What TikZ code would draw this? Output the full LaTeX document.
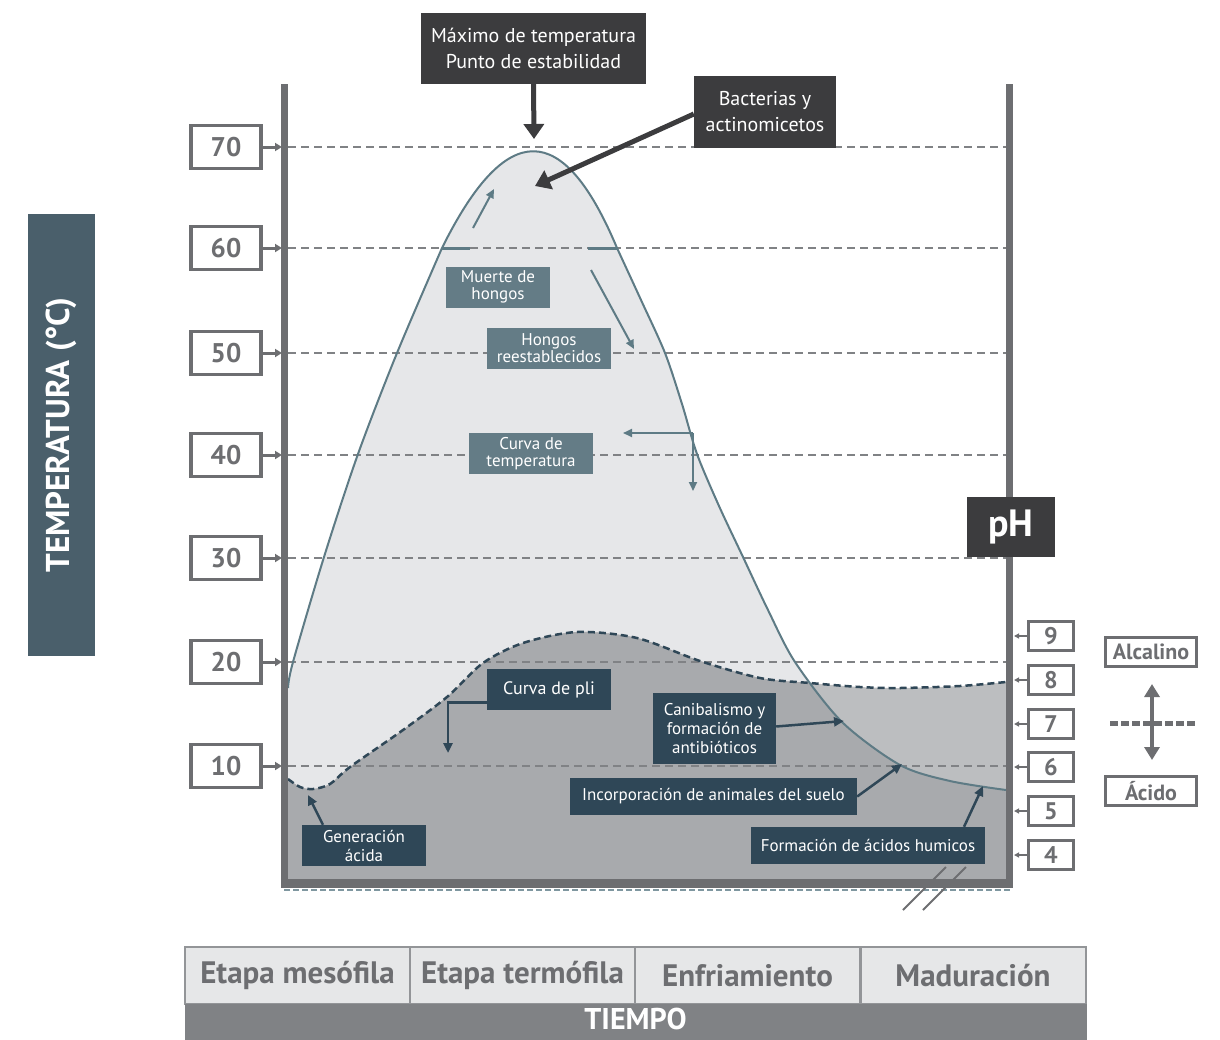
\documentclass[tikz,border=0pt]{standalone}
\usepackage{fontspec}
\setmainfont{PT Sans}
\usetikzlibrary{arrows.meta}
\definecolor{barg}{HTML}{6D6E71}
\definecolor{gridg}{HTML}{808285}
\definecolor{darkbox}{HTML}{3C3C3E}
\definecolor{teallab}{HTML}{647C86}
\definecolor{navy}{HTML}{2F4757}
\definecolor{tline}{HTML}{5E7B85}
\definecolor{tempfill}{HTML}{E6E7E9}
\definecolor{phlight}{HTML}{BCBEC0}
\definecolor{phdark}{HTML}{A8AAAD}
\definecolor{templab}{HTML}{4A5F6B}
\definecolor{bandg}{HTML}{808285}
\definecolor{cellfill}{HTML}{E6E7E8}
\definecolor{cellline}{HTML}{939598}
\definecolor{baseline}{HTML}{7F97A0}
\begin{document}
\begin{tikzpicture}[x=1pt,y=-1pt,
  numbox/.style={draw=barg, line width=3.5pt, fill=white, minimum width=70pt, minimum height=43pt, inner sep=0pt, text=barg, font=\fontsize{27}{27}\selectfont\bfseries},
  phnum/.style={draw=barg, line width=2.5pt, fill=white, minimum width=45pt, minimum height=29pt, inner sep=0pt, text=barg, font=\fontsize{24}{24}\selectfont\bfseries},
  sidebox/.style={draw=barg, line width=2.5pt, fill=white, minimum width=91pt, minimum height=29pt, inner sep=0pt, text=barg, font=\fontsize{22}{22}\selectfont\bfseries},
  darklbl/.style={fill=darkbox, text=white, inner sep=0pt, align=center, font=\fontsize{20}{26}\selectfont},
  teallbl/.style={fill=teallab, text=white, inner sep=0pt, align=center, font=\fontsize{17}{17}\selectfont},
  navylbl/.style={fill=navy, text=white, inner sep=0pt, align=center, font=\fontsize{17}{19}\selectfont},
  cell/.style={draw=cellline, line width=2pt, fill=cellfill, minimum width=225pt, minimum height=57pt, inner sep=0pt, text=barg, font=\fontsize{31}{31}\selectfont\bfseries},
  gridline/.style={draw=gridg, line width=1.3pt, dash pattern=on 8pt off 5pt},
  bigarrow/.style={draw=darkbox, line width=5pt, -{Triangle[length=15pt,width=20pt]}},
  tarrow/.style={draw=tline, line width=2pt, -{Triangle[length=9pt,width=8pt]}},
  narrow/.style={draw=navy, line width=2.5pt, -{Triangle[length=10pt,width=9pt]}},
  garrow/.style={draw=barg, line width=3pt, -{Triangle[length=7pt,width=8pt]}},
  parrow/.style={draw=barg, line width=1.5pt, -{Triangle[length=5pt,width=5pt]}},
  bar/.style={draw=barg, line width=7pt}
]
\useasboundingbox (0,0) rectangle (1220,1039);

% --- regions
\path[save path=\tempP] (288,880) -- plot[smooth, tension=0.5] coordinates {(288,688) (293,662) (324,557) (358,454) (397,353) (442,248)} .. controls (506,119) and (563,119) .. (617,248) -- plot[smooth, tension=0.5] coordinates {(617,248) (641,300) (665,353) (682,404) (697,454) (719,506) (743,557) (768,610) (795,662) (842,722) (900,765) (950,781) (1006,790)} -- (1006,880) -- cycle;
\path[save path=\phP] (288,880) -- plot[smooth] coordinates {(288,779) (300,787) (313,789) (330,784) (350,767) (403,730) (447,697) (483,663) (523,643) (577,632) (637,638) (700,661) (760,678) (810,683) (860,687) (900,688) (960,686) (1006,682)} -- (1006,880) -- cycle;
\fill[tempfill, use path=\tempP];
\fill[phlight, use path=\phP];
\begin{scope}
  \path[clip, use path=\tempP];
  \fill[phdark, use path=\phP];
\end{scope}

% --- grid lines
\foreach \y in {147,248,353,455,558,662,766} \draw[gridline] (288,\y) -- (1006,\y);
\draw[draw=baseline, line width=1.2pt, dash pattern=on 6pt off 3pt] (284,890) -- (1010,890);

% --- curves
\draw[tline, line width=2pt, line join=round] plot[smooth, tension=0.5] coordinates {(288,688) (293,662) (324,557) (358,454) (397,353) (442,248)} .. controls (506,119) and (563,119) .. (617,248) -- plot[smooth, tension=0.5] coordinates {(617,248) (641,300) (665,353) (682,404) (697,454) (719,506) (743,557) (768,610) (795,662) (842,722) (900,765) (950,781) (1006,790)};
\draw[navy, line width=2.5pt, dash pattern=on 7pt off 4pt] plot[smooth] coordinates {(288,779) (300,787) (313,789) (330,784) (350,767) (403,730) (447,697) (483,663) (523,643) (577,632) (637,638) (700,661) (760,678) (810,683) (860,687) (900,688) (960,686) (1006,682)};

% fungi marks at 60
\draw[tline, line width=3pt] (442,248) -- (470,248);
\draw[tline, line width=3pt] (588,248) -- (617,248);

% --- axes bars
\draw[bar] (284.5,84) -- (284.5,884);
\draw[bar] (1009.5,84) -- (1009.5,884);
\draw[draw=barg, line width=9pt] (281,883.5) -- (1013,883.5);
\draw[barg, line width=2pt] (903,910) -- (946,867);
\draw[barg, line width=2pt] (923,910) -- (966,867);

% --- temperature scale
\node[fill=templab, text=white, minimum width=442pt, minimum height=67pt, inner sep=0pt, rotate=90, font=\fontsize{33}{33}\selectfont\bfseries] (templbl) at (61.5,435) {TEMPERATURA (°C)};
\foreach \v/\y in {70/147,60/248,50/353,40/455,30/558,20/662,10/766} {
  \node[numbox] (t\v) at (226,\y) {\v};
  \coordinate (tb\v) at (282,\y);
  \draw[garrow] (t\v) -- (tb\v);
}

% --- pH scale
\node[fill=darkbox, text=white, minimum width=88pt, minimum height=60pt, inner sep=0pt, font=\fontsize{38}{38}\selectfont\bfseries] (ph) at (1011,527) {pH};
\foreach \v/\y in {9/636,8/680,7/724,6/767,5/811,4/855} {
  \node[phnum] (p\v) at (1051,\y) {\v};
  \coordinate (pb\v) at (1014,\y);
  \draw[parrow] (p\v) -- (pb\v);
}
\node[sidebox] (alc) at (1151,652) {Alcalino};
\node[sidebox] (acid) at (1151,791) {Ácido};
\coordinate (dup) at (1152,684);
\coordinate (ddn) at (1152,760);
\draw[draw=barg, line width=4pt, {Triangle[length=13pt,width=15pt]}-{Triangle[length=13pt,width=15pt]}] (dup) -- (ddn);
\coordinate (dl) at (1110,723);
\coordinate (dr) at (1196,723);
\draw[draw=barg, line width=5pt, dash pattern=on 8pt off 3pt] (dl) -- (dr);

% --- top labels
\node[darklbl, minimum width=225pt, minimum height=71pt] (maxb) at (533.5,48.5) {Máximo de temperatura\\Punto de estabilidad};
\coordinate (peak) at (534,139);
\draw[bigarrow] (maxb.south) -- (peak);
\node[darklbl, minimum width=142pt, minimum height=72pt] (bact) at (765,112) {Bacterias y\\actinomicetos};
\coordinate (bactt) at (535,186);
\draw[bigarrow] ([yshift=-2pt]bact.west) -- (bactt);

% --- inner arrows (temperature)
\coordinate (u1) at (473,228); \coordinate (u2) at (494,189);
\draw[tarrow] (u1) -- (u2);
\coordinate (d1) at (591,270); \coordinate (d2) at (634,349);
\draw[tarrow] (d1) -- (d2);
\coordinate (kt) at (693,433); \coordinate (kl) at (623,433); \coordinate (kd) at (693,491);
\draw[tarrow] (kt) -- (kl);
\draw[tarrow] (kt) -- (kd);

\node[teallbl, minimum width=104pt, minimum height=41pt] (muerte) at (498,287) {Muerte de\\hongos};
\node[teallbl, minimum width=124pt, minimum height=41pt] (hongos) at (549,348.5) {Hongos\\reestablecidos};
\node[teallbl, minimum width=124pt, minimum height=41pt] (curvat) at (531,453.5) {Curva de\\temperatura};

% --- navy labels
\node[navylbl, minimum width=124pt, minimum height=41pt, font=\fontsize{18}{18}\selectfont] (pli) at (549,689.5) {Curva de pli};
\coordinate (plid) at (448,753);
\draw[narrow] ([yshift=-13pt]pli.west) -| (plid);
\node[navylbl, minimum width=124pt, minimum height=41pt] (gen) at (364,845.5) {Generación\\ácida};
\coordinate (gent) at (308,795);
\draw[narrow] ([xshift=-41pt]gen.north) -- (gent);
\node[navylbl, minimum width=123pt, minimum height=71pt] (canib) at (714.5,728.5) {Canibalismo y\\formación de\\antibióticos};
\coordinate (canibt) at (844,721);
\draw[narrow] ([yshift=2pt]canib.east) -- (canibt);
\node[navylbl, minimum width=287pt, minimum height=37pt] (incorp) at (713.5,796.5) {Incorporación de animales del suelo};
\coordinate (incorpt) at (902,764);
\draw[narrow] (incorp.east) -- (incorpt);
\node[navylbl, minimum width=234pt, minimum height=37pt] (formac) at (868,845.5) {Formación de ácidos humicos};
\coordinate (formact) at (983,786);
\draw[narrow] ([xshift=96pt]formac.north) -- (formact);

% --- time table
\node[cell] (c1) at (297.5,975.5) {Etapa mesófila};
\node[cell] (c2) at (522.5,975.5) {Etapa termófila};
\node[cell] (c3) at (747.5,975.5) {Enfriamiento};
\node[cell] (c4) at (973,975.5) {Maduración};
\node[fill=bandg, minimum width=902pt, minimum height=50pt, inner sep=0pt, anchor=north] (band) at (635.5,1004) {};
\node[text=white, inner sep=0pt, anchor=north, font=\fontsize{30}{30}\selectfont\bfseries] (tiempo) at (635.5,1008) {TIEMPO};
\end{tikzpicture}
\end{document}
